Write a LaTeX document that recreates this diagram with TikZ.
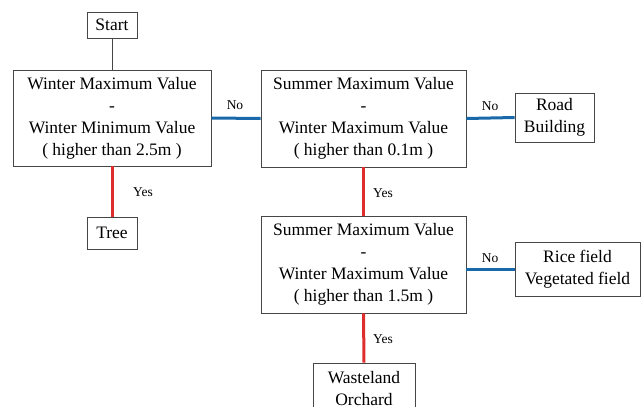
\documentclass[tikz,border=0pt]{standalone}
\usepackage{fontspec}
\setmainfont{Liberation Serif}
\definecolor{yesred}{RGB}{222,45,45}
\definecolor{noblue}{RGB}{25,105,170}
\definecolor{boxline}{RGB}{70,70,70}
\begin{document}
\begin{tikzpicture}[x=1pt,y=-1pt,
  box/.style={draw=boxline,line width=0.9pt,align=center,inner sep=0pt,
    font=\fontsize{17.5}{22}\selectfont,fill=white},
  lbl/.style={font=\fontsize{13.5}{16}\selectfont,inner sep=0pt},
  yesline/.style={draw=yesred,line width=3pt},
  noline/.style={draw=noblue,line width=3pt},
  plain/.style={draw=boxline,line width=0.9pt}]
\useasboundingbox (0,0) rectangle (641,407);
\node[box,minimum width=50pt,minimum height=26pt] (start) at (112,25) {Start};
\node[box,minimum width=198pt,minimum height=96pt] (b1) at (112,118)
  {Winter Maximum Value\\-\\Winter Minimum Value\\( higher than 2.5m )};
\node[box,minimum width=205pt,minimum height=97pt] (b2) at (363.5,118.5)
  {Summer Maximum Value\\-\\Winter Maximum Value\\( higher than 0.1m )};
\node[box,minimum width=205pt,minimum height=97pt] (b3) at (363.5,264.5)
  {Summer Maximum Value\\-\\Winter Maximum Value\\( higher than 1.5m )};
\node[box,minimum width=50pt,minimum height=32pt] (tree) at (112,233) {Tree};
\node[box,minimum width=79pt,minimum height=49pt] (road) at (554.5,117.5) {Road\\Building};
\node[box,minimum width=125pt,minimum height=54pt] (rice) at (577.5,269) {Rice field\\Vegetated field};
\node[box,minimum width=102pt,minimum height=52pt] (waste) at (364,389) {Wasteland\\Orchard};
\draw[plain] (start.south) -- (b1.north);
\draw[yesline] (b1.south) -- (tree.north);
\draw[noline] (b1.east) -- (b2.west);
\draw[noline] (b2.east) -- (road.west);
\draw[yesline] (b2.south) -- (b3.north);
\draw[noline] (rice.west) -- (rice.west -| b3.east);
\draw[yesline] (b3.south) -- (waste.north);
\node[lbl] (l1) at (235,105) {No};
\node[lbl] (l2) at (490,106) {No};
\node[lbl] (l3) at (490,258) {No};
\node[lbl] (l4) at (143,192) {Yes};
\node[lbl] (l5) at (383,193) {Yes};
\node[lbl] (l6) at (383,339) {Yes};
\end{tikzpicture}
\end{document}
